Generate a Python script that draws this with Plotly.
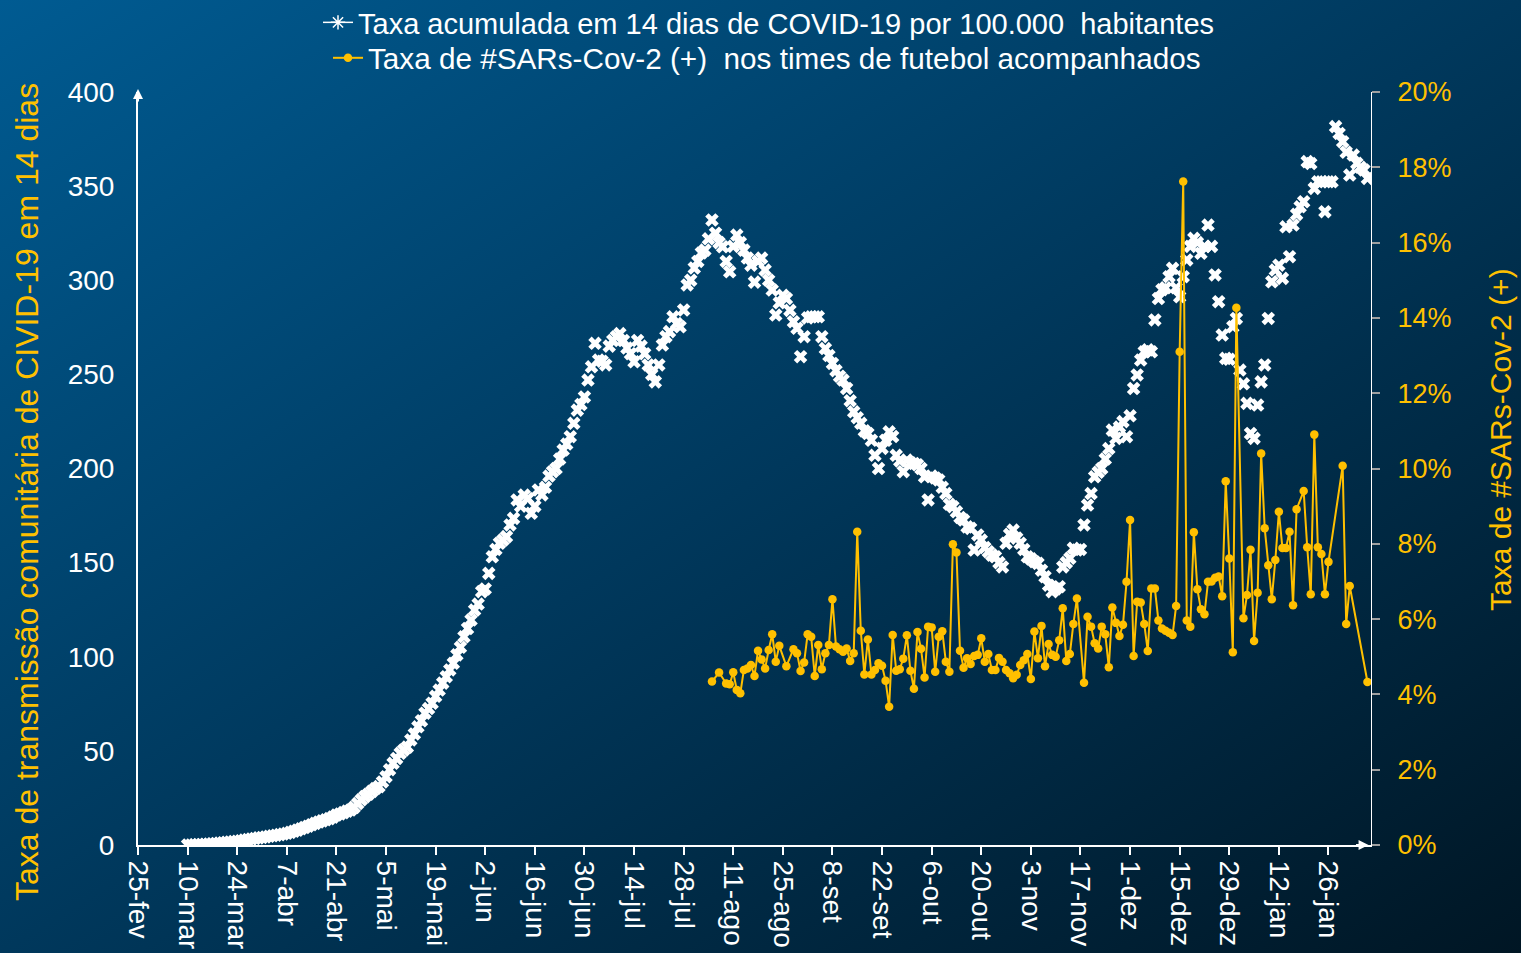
import base64
import pandas as pd
import plotly.graph_objects as go

# ---------------- data ----------------
# Taxa acumulada em 14 dias por 100.000 habitantes (daily, from 10-mar-2020)
white_start = "2020-03-10"
white_values = [
    0, 0, 0.1, 0.2, 0.3, 0.4, 0.5, 0.7, 0.8, 1.0, 1.2, 1.4, 1.6, 1.8, 2.0,
    2.3, 2.6, 2.9, 3.2, 3.5, 3.8, 4.0, 4.3, 4.6, 4.9, 5.2, 5.5, 5.8, 6.2,
    6.7, 7.3, 7.9, 8.6, 9.3, 10.0, 10.8, 11.5, 12.2, 12.8, 13.4, 14.0, 14.8, 15.9,
    16.5, 17.2, 18.0, 18.6, 20.0, 22.0, 24.0, 25.7, 27.0, 28.5, 30.0, 31.0, 33.5, 36.3,
    40.0, 43.4, 46.0, 48.7, 50.5, 52.0, 55.8, 59.0, 62.8, 66.0, 70.0, 72.5, 75.3, 79.0,
    82.3, 86.0, 89.4, 93.0, 96.5, 101.0, 105.0, 110.6, 115.0, 119.5, 124.8, 128.0, 134.6, 136.0,
    144.3, 153.1, 157.0, 160.3, 162.0, 163.8, 170.0, 173.5, 183.3, 180.0, 185.9, 184.0, 176.2, 180.0,
    188.6, 186.0, 190.0, 196.0, 198.3, 200.0, 205.0, 209.8, 213.0, 216.9, 224.0, 231.0, 234.0, 238.0,
    247.0, 254.0, 266.5, 257.6, 257.0, 255.0, 265.0, 268.0, 270.0, 271.7, 268.0, 264.0, 261.0, 256.7,
    268.0, 265.0, 261.0, 255.0, 250.0, 246.0, 255.0, 265.6, 270.0, 272.7, 280.6, 277.0, 275.3, 284.2,
    297.5, 300.0, 306.5, 310.0, 314.5, 316.0, 322.0, 332.0, 325.0, 320.0, 317.8, 310.0, 304.5, 318.0,
    324.0, 320.0, 316.0, 311.8, 308.0, 299.0, 310.0, 311.8, 305.4, 300.0, 294.8, 281.5, 288.0, 292.0,
    290.3, 284.0, 278.0, 274.5, 259.4, 270.0, 280.0, 280.6, 280.6, 280.6, 270.0, 263.7, 260.0, 255.8,
    252.0, 249.0, 247.0, 242.5, 236.0, 230.1, 227.0, 224.0, 220.0, 218.6, 215.0, 207.0, 200.0, 210.7,
    215.0, 219.5, 217.0, 207.0, 204.0, 198.3, 204.5, 203.0, 202.7, 202.0, 200.0, 195.6, 183.3, 196.0,
    195.0, 193.9, 190.0, 186.7, 181.0, 179.7, 177.0, 174.0, 172.6, 169.0, 168.2, 156.7, 164.7, 162.0,
    158.0, 155.8, 154.0, 153.1, 150.0, 147.7, 160.3, 165.0, 167.3, 163.0, 160.3, 157.0, 153.1, 152.0,
    150.5, 149.6, 146.0, 142.5, 138.0, 134.6, 136.0, 137.2, 147.7, 150.0, 152.3, 157.6, 156.7, 157.0,
    170.0, 180.6, 186.7, 195.6, 198.0, 200.0, 205.0, 210.6, 220.4, 216.0, 222.0, 224.9, 216.9, 228.0,
    242.5, 249.7, 257.6, 262.0, 263.0, 262.0, 278.9, 290.3, 295.0, 296.0, 301.9, 306.3, 296.0, 291.2,
    301.9, 310.8, 318.0, 322.3, 320.0, 314.3, 318.0, 329.3, 318.0, 302.8, 288.6, 270.9, 258.5, 258.0,
    275.3, 279.7, 252.3, 245.0, 234.6, 218.6, 216.0, 233.7, 246.0, 255.0, 279.7, 299.2, 305.4, 308.0,
    301.0, 328.4, 312.5, 329.3, 335.0, 339.0, 341.7, 363.0, 362.0, 348.8, 352.3, 352.3, 336.4, 352.3,
    352.3, 381.6, 378.0, 373.6, 368.0, 355.9, 366.5, 362.1, 360.0, 358.6, 354.1,
]

# Taxa de #SARs-Cov-2 (+) nos times de futebol (%), daily from 5-ago-2020 (None = no value)
yellow_start = "2020-08-05"
yellow_values = [
    4.34, None, 4.58, None, 4.29, 4.27, 4.59, 4.12, 4.03, 4.65, 4.69, 4.78, 4.49,
    5.16, 4.93, 4.69, 5.18, 5.60, 4.87, 5.29, None, 4.75, None,
    5.20, 5.09, 4.62, 4.85, 5.60, 5.53, 4.49, 5.31, 4.67, 5.09, 5.31, 6.53, 5.27, 5.20,
    5.13, 5.22, 4.89, 5.09, 8.32, 5.69, 4.53, 5.46, 4.53, 4.65, 4.83, 4.76, 4.36, 3.67,
    5.58, 4.63, 4.67, 4.95, 5.57, 4.63, 4.15, 5.66, 5.21, 4.45, 5.80, 5.78, 4.60, 5.53,
    5.68, 4.87, 4.60, 7.99, 7.77, 5.16, 4.71, 4.96, 4.81, 5.02, 5.05, 5.49, 4.87, 5.07,
    4.65, 4.65, 4.97, 4.87, 4.65, 4.56, 4.43, 4.52, 4.78, 4.91, 5.07, 4.41, 5.67, 4.96,
    5.82, 4.75, 5.34, 5.05, 5.00, 5.44, 6.29, 4.89, 5.07, 5.87, 6.55,
    None, 4.31, 6.06, 5.80, 5.36, 5.22, 5.80, 5.60, 4.72, 6.31, 5.90, 5.55, 5.85, 6.99,
    8.63, 5.02, 6.46, 6.44, 5.87, 5.15, 6.81, 6.81, 5.96, 5.75, 5.69, 5.64, 5.58, 6.35,
    13.1, 17.62, 5.96, 5.80, 8.31, 6.79, 6.26, 6.13, 6.99, 7.00, 7.10, 7.13, 6.61, 9.66,
    7.61, 5.12, 14.27, None, 6.02, 6.64, 7.84, 5.42, 6.70, 10.4, 8.41, 7.43, 6.53, 7.57,
    8.85, 7.89, 7.89, 8.32, 6.37, 8.92, None, 9.40, 7.91, 6.66, 10.9, 7.91, 7.73, 6.66,
    7.52, None, None, None, 10.07, 5.87, 6.88, None, None, None, None, 4.33,
]

tick_dates = pd.date_range("2020-02-25", periods=25, freq="14D")
tick_labels = ["25-fev", "10-mar", "24-mar", "7-abr", "21-abr", "5-mai", "19-mai", "2-jun",
               "16-jun", "30-jun", "14-jul", "28-jul", "11-ago", "25-ago", "8-set", "22-set",
               "6-out", "20-out", "3-nov", "17-nov", "1-dez", "15-dez", "29-dez", "12-jan", "26-jan"]
left_ticks = [0, 50, 100, 150, 200, 250, 300, 350, 400]
right_ticks = [0, 2, 4, 6, 8, 10, 12, 14, 16, 18, 20]
right_labels = [f"{v}%" for v in right_ticks]

name_white = "Taxa acumulada em 14 dias de COVID-19 por 100.000  habitantes"
name_yellow = "Taxa de #SARs-Cov-2 (+)  nos times de futebol acompanhados"
title_left = "Taxa de transmissão comunitária de CIVID-19 em 14 dias"
title_right = "Taxa de #SARs-Cov-2 (+)"

# ---------------- figure ----------------
W, H = 1521, 953
ML, MR, MT, MB = 138, 150, 92, 108
PW, PH = W - ML - MR, H - MT - MB

FONT = "Liberation Sans, Arial, sans-serif"
YEL = "#FFC000"


def px_x(px):
    return (px - ML) / PW


def px_y(py):
    return 1 - (py - MT) / PH


white_dates = pd.date_range(white_start, periods=len(white_values), freq="D")
yellow_dates = pd.date_range(yellow_start, periods=len(yellow_values), freq="D")

fig = go.Figure()

# legend-only entry for the white series (line + asterisk)
fig.add_trace(go.Scatter(
    x=[None], y=[None], mode="lines+markers", name=name_white, legend="legend",
    line=dict(color="white", width=1.5),
    marker=dict(symbol="asterisk-open", size=12, line=dict(color="white", width=1.5)),
))
fig.add_trace(go.Scatter(
    x=white_dates, y=white_values, mode="markers", showlegend=False,
    marker=dict(symbol="x", size=12, color="white", line=dict(width=0)),
))
fig.add_trace(go.Scatter(
    x=yellow_dates, y=yellow_values, mode="lines+markers", name=name_yellow,
    yaxis="y2", connectgaps=True, legend="legend2",
    line=dict(color=YEL, width=2),
    marker=dict(symbol="circle", size=8.5, color=YEL),
))

grad_svg = (
    f"<svg xmlns='http://www.w3.org/2000/svg' width='{W}' height='{H}'>"
    "<defs><linearGradient id='g' x1='0' y1='0' x2='1' y2='1'>"
    "<stop offset='0' stop-color='#005b92'/>"
    "<stop offset='0.5' stop-color='#00385c'/>"
    "<stop offset='1' stop-color='#001624'/>"
    "</linearGradient></defs>"
    f"<rect width='{W}' height='{H}' fill='url(#g)'/></svg>"
)
grad_uri = "data:image/svg+xml;base64," + base64.b64encode(grad_svg.encode()).decode()

legend_common = dict(
    xanchor="left", yanchor="top", bgcolor="rgba(0,0,0,0)", itemsizing="trace",
)

fig.update_layout(
    width=W, height=H,
    margin=dict(l=ML, r=MR, t=MT, b=MB, pad=0, autoexpand=False),
    paper_bgcolor="#00385c",
    plot_bgcolor="rgba(0,0,0,0)",
    font=dict(family=FONT, color="white", size=28),
    images=[dict(
        source=grad_uri, xref="paper", yref="paper",
        x=-ML / PW, y=1 + MT / PH, sizex=W / PW, sizey=H / PH,
        xanchor="left", yanchor="top", sizing="stretch", layer="below",
    )],
    showlegend=True,
    legend=dict(x=px_x(318), y=px_y(-3),
                font=dict(size=29, color="white", family=FONT), **legend_common),
    legend2=dict(x=px_x(328), y=px_y(32),
                 font=dict(size=29.7, color="white", family=FONT), **legend_common),
    xaxis=dict(
        type="date",
        range=["2020-02-25", "2021-02-07"],
        tickmode="array", tickvals=tick_dates, ticktext=tick_labels,
        tickangle=90, ticks="outside", ticklen=8, tickwidth=2, tickcolor="white",
        showline=True, linecolor="white", linewidth=2,
        showgrid=False, zeroline=False, automargin=False,
        tickfont=dict(size=28, color="white", family=FONT),
    ),
    yaxis=dict(
        range=[0, 400], tickmode="array", tickvals=left_ticks,
        ticks="outside", ticklen=16, tickcolor="rgba(0,0,0,0)",
        showline=True, linecolor="white", linewidth=2,
        showgrid=False, zeroline=False, automargin=False,
        tickfont=dict(size=28, color="white", family=FONT),
    ),
    yaxis2=dict(
        range=[0, 20], overlaying="y", side="right", anchor="x",
        tickmode="array", tickvals=right_ticks, ticktext=right_labels,
        ticks="outside", ticklen=8, tickwidth=1.5, tickcolor="#a0a0a0",
        ticklabelstandoff=12,
        showline=True, linecolor="white", linewidth=1,
        showgrid=False, zeroline=False, automargin=False,
        tickfont=dict(size=27, color=YEL, family=FONT),
    ),
    annotations=[
        dict(text=title_left, xref="paper", yref="paper",
             x=px_x(27), y=px_y(492), textangle=-90,
             showarrow=False, xanchor="center", yanchor="middle",
             font=dict(size=32, color=YEL, family=FONT)),
        dict(text=title_right, xref="paper", yref="paper",
             x=px_x(1500), y=px_y(440), textangle=-90,
             showarrow=False, xanchor="center", yanchor="middle",
             font=dict(size=30, color=YEL, family=FONT)),
        # axis arrows
        dict(text="", xref="paper", yref="paper", x=0, y=1.004, ax=0, ay=14,
             showarrow=True, arrowhead=2, arrowsize=1, arrowwidth=2, arrowcolor="white"),
        dict(text="", xref="paper", yref="paper", x=0.998, y=0, ax=-14, ay=0,
             showarrow=True, arrowhead=2, arrowsize=1, arrowwidth=2, arrowcolor="white"),
    ],
)

fig.write_html(
    "out.html",
    config={"displayModeBar": False},
    post_script="document.body.style.margin='0';document.body.style.overflow='hidden';",
)
